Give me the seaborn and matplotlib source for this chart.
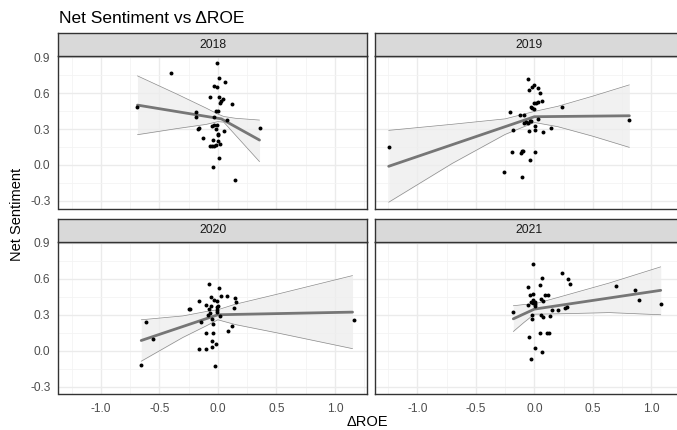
import numpy as np
import pandas as pd
import matplotlib
matplotlib.use("Agg")
import matplotlib.pyplot as plt
import seaborn as sns

sns.set_style("white")
plt.rcParams['font.family'] = ['Liberation Sans', 'DejaVu Sans']

title = "Net Sentiment vs ΔROE"
xlabel = "ΔROE"
ylabel = "Net Sentiment"
years = ["2018", "2019", "2020", "2021"]

x2018 = [-0.01, -0.40, 0.01, 0.06, -0.03, -0.01, -0.07, 0.01, 0.04, 0.03, 0.02, 0.125, -0.687,
         -0.185, -0.185, -0.015, 0.003, -0.03, 0.08, -0.05, -0.03, -0.01, 0.356, -0.015, -0.174,
         -0.157, 0.054, 0.003, 0.0, -0.131, -0.043, 0.0, 0.02, -0.07, -0.048, -0.03, -0.014,
         0.01, -0.04, 0.145]
y2018 = [0.85, 0.772, 0.728, 0.694, 0.656, 0.65, 0.564, 0.567, 0.553, 0.536, 0.52, 0.508, 0.486,
         0.442, 0.40, 0.447, 0.447, 0.397, 0.378, 0.328, 0.33, 0.336, 0.306, 0.30, 0.297,
         0.306, 0.286, 0.258, 0.253, 0.222, 0.206, 0.197, 0.178, 0.156, 0.158, 0.161, 0.164,
         0.058, -0.019, -0.122]

x2019 = [-1.245, -0.054, -0.003, -0.02, 0.03, -0.046, 0.05, 0.063, -0.003, 0.014, 0.03, -0.03,
         -0.017, 0.0, 0.234, -0.21, -0.125, -0.088, 0.03, 0.81, -0.07, -0.09, -0.057, -0.04,
         -0.026, 0.006, 0.145, -0.18, -0.043, 0.003, 0.077, -0.194, -0.114, -0.103, -0.094,
         0.003, -0.037, -0.256, -0.105]
y2019 = [0.153, 0.722, 0.667, 0.653, 0.642, 0.625, 0.603, 0.531, 0.52, 0.52, 0.525, 0.48,
         0.475, 0.47, 0.483, 0.444, 0.414, 0.414, 0.386, 0.375, 0.36, 0.347, 0.353, 0.364,
         0.369, 0.325, 0.306, 0.294, 0.286, 0.294, 0.272, 0.108, 0.103, 0.114, 0.12,
         0.106, 0.042, -0.061, -0.097]

x2020 = [-0.655, -0.61, -0.558, -0.08, 0.009, -0.06, 0.023, 0.074, -0.034, -0.011, 0.148, 0.154,
         -0.157, -0.105, -0.057, 0.003, -0.006, 0.134, -0.25, -0.242, -0.077, -0.009, -0.011,
         -0.063, -0.088, 0.017, -0.051, 1.16, -0.145, -0.043, 0.117, 0.083, -0.1, -0.043,
         -0.048, -0.017, -0.046, -0.162, -0.105, -0.028]
y2020 = [-0.116, 0.236, 0.096, 0.557, 0.526, 0.45, 0.456, 0.459, 0.42, 0.417, 0.44, 0.403,
         0.412, 0.384, 0.375, 0.375, 0.367, 0.359, 0.347, 0.347, 0.347, 0.342, 0.322,
         0.314, 0.297, 0.286, 0.264, 0.255, 0.236, 0.219, 0.205, 0.163, 0.146, 0.146,
         0.077, 0.052, 0.032, 0.015, 0.012, -0.124]

x2021 = [-0.009, 0.236, 0.063, 0.288, 0.302, -0.051, 0.048, 0.698, 0.86, -0.04, -0.009, 0.088,
         0.12, 0.06, 0.074, 0.89, -0.014, 0.003, -0.026, -0.011, 0.009, -0.057, 1.08, 0.003,
         0.282, 0.262, 0.151, 0.2, -0.182, -0.017, 0.054, 0.077, 0.131, -0.017, 0.046, 0.111,
         0.125, -0.043, 0.009, 0.063, -0.031]
y2021 = [0.724, 0.652, 0.604, 0.599, 0.56, 0.532, 0.546, 0.54, 0.504, 0.465, 0.473, 0.462,
         0.462, 0.428, 0.417, 0.423, 0.423, 0.406, 0.403, 0.395, 0.392, 0.378, 0.392, 0.37,
         0.361, 0.356, 0.336, 0.336, 0.325, 0.297, 0.294, 0.283, 0.286, 0.264, 0.149, 0.149,
         0.149, 0.113, 0.026, -0.015, -0.068]

# fitted trend line: vertices at ends and at the bend
fitx2018 = [-0.687, 0.03, 0.356]
fity2018 = [0.50, 0.385, 0.208]
fitx2019 = [-1.245, 0.0, 0.812]
fity2019 = [-0.011, 0.403, 0.411]
fitx2020 = [-0.655, 0.0, 1.151]
fity2020 = [0.085, 0.30, 0.322]
fitx2021 = [-0.18, 0.0, 1.08]
fity2021 = [0.266, 0.347, 0.504]

# confidence band
bandx2018 = [-0.687, -0.35, -0.1, 0.0, 0.05, 0.15, 0.356]
bandhi2018 = [0.744, 0.592, 0.475, 0.425, 0.405, 0.39, 0.375]
bandlo2018 = [0.253, 0.304, 0.339, 0.362, 0.358, 0.25, 0.028]
bandx2019 = [-1.245, -0.7, -0.25, 0.0, 0.2, 0.5, 0.812]
bandhi2019 = [0.289, 0.34, 0.385, 0.447, 0.49, 0.575, 0.669]
bandlo2019 = [-0.311, 0.014, 0.255, 0.355, 0.32, 0.24, 0.147]
bandx2020 = [-0.655, -0.3, -0.1, 0.0, 0.15, 0.5, 1.151]
bandhi2020 = [0.258, 0.29, 0.327, 0.342, 0.388, 0.47, 0.627]
bandlo2020 = [-0.088, 0.11, 0.207, 0.258, 0.218, 0.15, 0.017]
bandx2021 = [-0.18, -0.09, 0.0, 0.214, 0.64, 1.08]
bandhi2021 = [0.375, 0.385, 0.39, 0.448, 0.565, 0.70]
bandlo2021 = [0.16, 0.235, 0.305, 0.308, 0.318, 0.30]

xs = [x2018, x2019, x2020, x2021]
ys = [y2018, y2019, y2020, y2021]
fitxs = [fitx2018, fitx2019, fitx2020, fitx2021]
fitys = [fity2018, fity2019, fity2020, fity2021]
bandxs = [bandx2018, bandx2019, bandx2020, bandx2021]
bandhis = [bandhi2018, bandhi2019, bandhi2020, bandhi2021]
bandlos = [bandlo2018, bandlo2019, bandlo2020, bandlo2021]

xticks = [-1.0, -0.5, 0.0, 0.5, 1.0]
yticks = [-0.3, 0.0, 0.3, 0.6, 0.9]

W, H = 677, 430
fig = plt.figure(figsize=(W / 100, H / 100), dpi=100)

col_x = [58.5, 375.0]
pw = 308.2
row_top = [56.0, 241.7]
ph = 152.7
sh = 22.8
xlim = (-1.362, 1.272)
ylim = (-0.365, 0.91)

border = "#333333"
gridc = "#EBEBEB"

for i, yr in enumerate(years):
    r, c = divmod(i, 2)
    left = col_x[c] / W
    bottom = 1 - (row_top[r] + ph) / H
    ax = fig.add_axes([left, bottom, pw / W, ph / H])
    ax.set_facecolor("white")
    ax.set_xlim(*xlim)
    ax.set_ylim(*ylim)
    ax.set_xticks(xticks)
    ax.set_yticks(yticks)
    ax.set_xticks([-1.25, -0.75, -0.25, 0.25, 0.75, 1.25], minor=True)
    ax.set_yticks([-0.15, 0.15, 0.45, 0.75], minor=True)
    ax.grid(True, which="major", color=gridc, linewidth=1.0)
    ax.grid(True, which="minor", color="#F3F3F3", linewidth=0.55)
    ax.set_axisbelow(True)
    for s in ax.spines.values():
        s.set_color(border)
        s.set_linewidth(1.0)
        s.set_visible(True)

    df = pd.DataFrame({"x": xs[i], "y": ys[i]})
    fitdf = pd.DataFrame({"x": fitxs[i], "fit": fitys[i]})
    banddf = pd.DataFrame({"x": bandxs[i], "lo": bandlos[i], "hi": bandhis[i]})
    ax.fill_between(banddf["x"], banddf["lo"], banddf["hi"], color="#EDEDED", alpha=0.75,
                    linewidth=0, zorder=2)
    sns.lineplot(data=banddf, x="x", y="lo", ax=ax, color="#8A8A8A", linewidth=0.5,
                 zorder=3, estimator=None)
    sns.lineplot(data=banddf, x="x", y="hi", ax=ax, color="#8A8A8A", linewidth=0.5,
                 zorder=3, estimator=None)
    sns.lineplot(data=fitdf, x="x", y="fit", ax=ax, color="#767676", linewidth=2.0,
                 zorder=4, estimator=None)
    sns.scatterplot(data=df, x="x", y="y", ax=ax, color="black", s=8, linewidth=0,
                    zorder=5)
    ax.set_xlabel("")
    ax.set_ylabel("")

    ax.tick_params(axis="both", which="major", length=3.6, width=0.8, color=border,
                   labelsize=8.6, labelcolor="#4D4D4D", pad=2.2)
    ax.tick_params(axis="both", which="minor", length=0)
    ax.tick_params(axis="x", pad=2.6)
    ax.xaxis.set_major_formatter(matplotlib.ticker.FormatStrFormatter("%.1f"))
    ax.yaxis.set_major_formatter(matplotlib.ticker.FormatStrFormatter("%.1f"))
    if r == 0:
        ax.tick_params(axis="x", which="both", bottom=False, labelbottom=False)
    if c == 1:
        ax.tick_params(axis="y", which="both", left=False, labelleft=False)

    sax = fig.add_axes([left, 1 - row_top[r] / H, pw / W, sh / H])
    sax.set_facecolor("#D9D9D9")
    sax.set_xticks([])
    sax.set_yticks([])
    for s in sax.spines.values():
        s.set_color(border)
        s.set_linewidth(1.0)
    sax.text(0.5, 0.5, yr, ha="center", va="center", fontsize=8.8, color="#1A1A1A",
             transform=sax.transAxes)

fig.text(59 / W, 1 - 23 / H, title, ha="left", va="baseline", fontsize=12.5, color="black")
fig.text(367 / W, 1 - 422 / H, xlabel, ha="center", va="center", fontsize=10.5, color="black")
fig.text(17 / W, 1 - 214 / H, ylabel, ha="center", va="center", rotation=90, fontsize=10.5,
         color="black")

fig.savefig("out.png", dpi=100)
